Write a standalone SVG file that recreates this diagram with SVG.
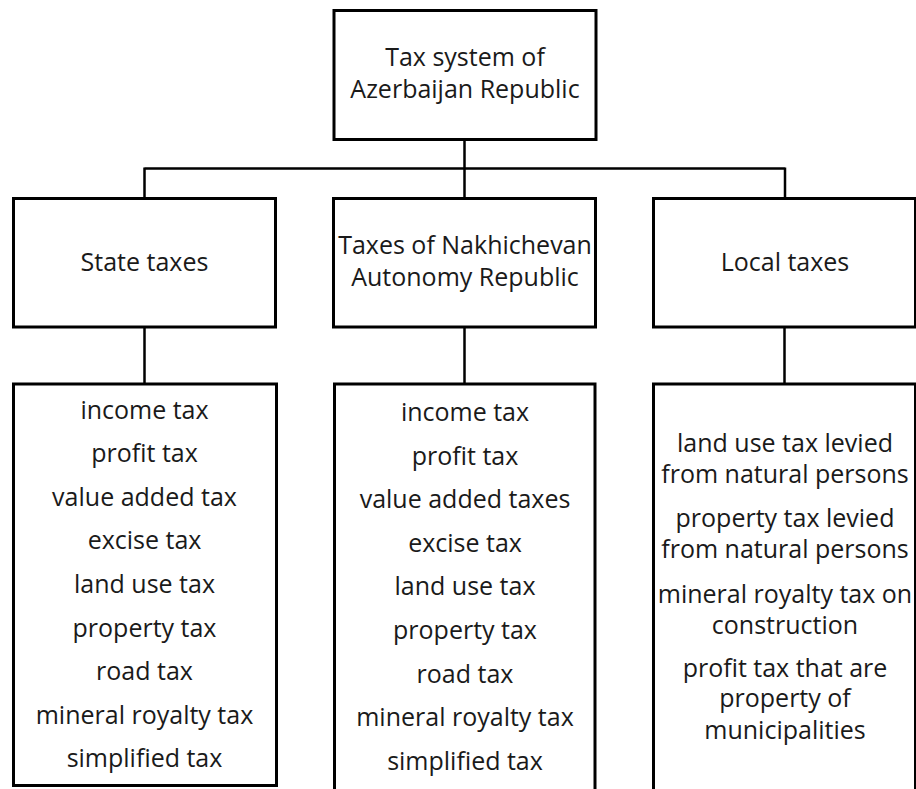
<svg xmlns="http://www.w3.org/2000/svg" width="916" height="789" viewBox="0 0 916 789">
<style>
.box{fill:#fff;stroke:#000;stroke-width:3}
.t{font-family:"Open Sans","Liberation Sans",sans-serif;font-size:25px;fill:#1a1a1a;text-anchor:middle}
.c{stroke:#000;stroke-width:2.5;fill:none}
</style>
<rect width="916" height="789" fill="#fff"/>
<g id="connectors">
<path class="c" d="M464.5 141V168.5M144.5 168.5H785M144.5 167.5V198M464.5 168.5V198M785 167.5V198"/>
<path class="c" d="M144.5 328V383M464.5 328V383M784.5 328V383"/>
</g>
<g id="root">
<rect class="box" x="334" y="10.5" width="262" height="129"/>
<text class="t" x="465" y="65.7">Tax system of</text>
<text class="t" x="465" y="97.7">Azerbaijan Republic</text>
</g>
<g id="state">
<rect class="box" x="13.5" y="198.5" width="262" height="128.5"/>
<text class="t" x="144.5" y="270.7">State taxes</text>
</g>
<g id="nakhichevan">
<rect class="box" x="333.5" y="198.5" width="262" height="128.5"/>
<text class="t" x="465" y="254">Taxes of Nakhichevan</text>
<text class="t" x="465" y="285.7">Autonomy Republic</text>
</g>
<g id="local">
<rect class="box" x="653.5" y="198.5" width="262" height="128.5"/>
<text class="t" x="785" y="270.7">Local taxes</text>
</g>
<g id="state-list">
<rect class="box" x="13.5" y="384" width="263" height="401.5"/>
<text class="t" x="144.5" y="418.5">income tax</text>
<text class="t" x="144.5" y="462.1">profit tax</text>
<text class="t" x="144.5" y="505.7">value added tax</text>
<text class="t" x="144.5" y="549.3">excise tax</text>
<text class="t" x="144.5" y="592.9">land use tax</text>
<text class="t" x="144.5" y="636.5">property tax</text>
<text class="t" x="144.5" y="680.1">road tax</text>
<text class="t" x="144.5" y="723.7">mineral royalty tax</text>
<text class="t" x="144.5" y="767.3">simplified tax</text>
</g>
<g id="nakhichevan-list">
<rect class="box" x="334.5" y="384" width="260.5" height="420"/>
<text class="t" x="465" y="420.8">income tax</text>
<text class="t" x="465" y="464.5">profit tax</text>
<text class="t" x="465" y="508.1">value added taxes</text>
<text class="t" x="465" y="551.8">excise tax</text>
<text class="t" x="465" y="595.4">land use tax</text>
<text class="t" x="465" y="639.1">property tax</text>
<text class="t" x="465" y="682.7">road tax</text>
<text class="t" x="465" y="726.4">mineral royalty tax</text>
<text class="t" x="465" y="770">simplified tax</text>
</g>
<g id="local-list">
<rect class="box" x="653.5" y="384" width="262" height="420"/>
<text class="t" x="785" y="451.7">land use tax levied</text>
<text class="t" x="785" y="483.3">from natural persons</text>
<text class="t" x="785" y="526.7">property tax levied</text>
<text class="t" x="785" y="558.3">from natural persons</text>
<text class="t" x="785" y="602.7">mineral royalty tax on</text>
<text class="t" x="785" y="634">construction</text>
<text class="t" x="785" y="676.5">profit tax that are</text>
<text class="t" x="785" y="707.4">property of</text>
<text class="t" x="785" y="739">municipalities</text>
</g>
</svg>
